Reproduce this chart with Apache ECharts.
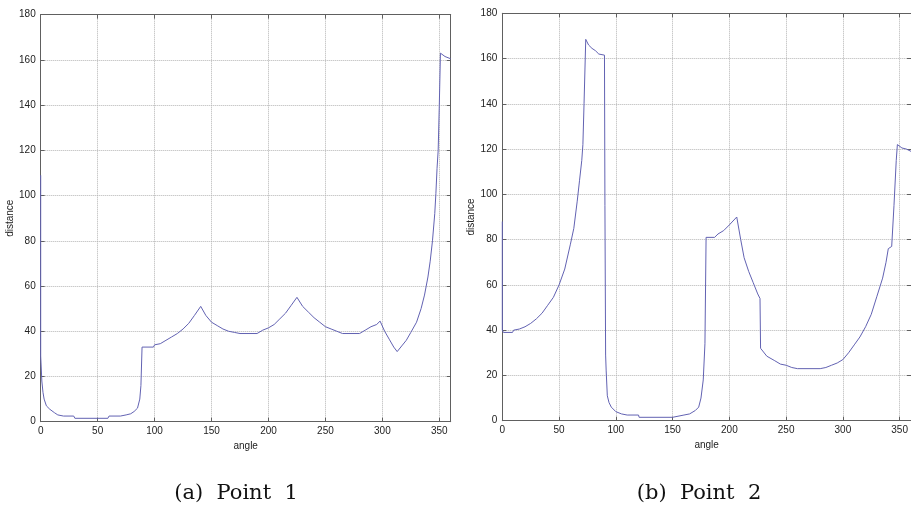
<!DOCTYPE html>
<html>
<head>
<meta charset="utf-8">
<script src="https://cdn.jsdelivr.net/npm/echarts@6/dist/echarts.min.js"></script>
<style>
html,body{margin:0;padding:0;background:#fff;}
#c{width:911px;height:505px;}
</style>
</head>
<body>
<div id="c"></div>
<script>
// ---- Data: Point 1 ----
var angles1 = [0,0,1,2,3,5,8,12,15,20,29,30,59,60,70,75,79,82,85,87,88,89,99,100,105,110,115,120,125,130,135,140.5,145,150,155,160,165,170,175,190,195,200,205,210,215,220,225,230,235,240,245,250,255,260,265,280,285,290,295,298,302,306,310,313,317,321,325,330,334,337,340,342,344,346,347,348,349,350,351,355,360];
var dist1   = [109,29,18,13,10,7,5.5,4,3,2.5,2.5,1.5,1.5,2.5,2.5,3,3.5,4.5,6,10,16,33,33,34,34.5,36,37.5,39,41,43.5,47,51,47,44,42.5,41,40,39.5,39,39,40.5,41.5,43,45.5,48,51.5,55,51,48.5,46,44,42,41,40,39,39,40.5,42,43,44.5,40,36.5,33,31,33.5,36,39.5,44,50,56,64,71,80,92,101,112,120,140,163,161.5,160.5];
// ---- Data: Point 2 ----
var angles2 = [0,0,1,9,10,15,20,25,30,35,40,45,50,55,60,63,66,68,70,71,72,73.5,76,79,82,85,90,90.4,91,91.5,92.5,94,96,100,105,110,120,120.5,150,151,160,165,170,173,175,177,178.5,179.5,187,190,195,200,206.5,210,213,217,221,225,227,227.5,233,240,245,250,255,260,280,285,290,295,300,305,310,315,320,325,330,335,338,340,343,345,347,348,352,356,360];
var dist2   = [88,40,39,39,40,40.5,41.5,43,45,47.5,51,54.5,60,67,78,85,97,106,115,122,140,168.5,166,164.5,163.5,162,161.5,95,29,22,11,8,6,4,3,2.5,2.5,1.5,1.5,2,2.5,3,4.5,6,10,18,34,81,81,82.5,84,86.5,90,80,72,66,61,56,54,32,28.5,26.5,25,24.5,23.5,23,23,23.5,24.5,25.5,27,30,33.5,37,41.5,47,55,63,70,76,77,95,115,122,120.5,120,119];
// ---- Axis ticks / labels ----
var xTicks = {min:0, max:360, interval:50};
var yTicks = {min:0, max:180, interval:20};
var xName = 'angle', yName = 'distance';
var captions = ['(a)  Point  1', '(b)  Point  2'];

function pairs(xs, ys){ return xs.map(function(x,i){ return [x, ys[i]]; }); }

var axisColor = '#606060';
var gridLine = {type:'dotted', color:'#b4b4b4', width:1};
var labelFont = {fontFamily:'Liberation Sans, Arial, sans-serif', fontSize:10, color:'#222'};

function xAxes(g){
  return [
    {type:'value', gridIndex:g, position:'bottom', min:xTicks.min, max:xTicks.max, interval:xTicks.interval,
     name:xName, nameLocation:'middle', nameGap:19, nameTextStyle:labelFont,
     axisLine:{onZero:false, lineStyle:{color:axisColor, width:1}},
     axisTick:{inside:true, length:4, lineStyle:{color:axisColor}},
     axisLabel:Object.assign({margin:5, showMaxLabel:false}, labelFont),
     splitLine:{show:true, lineStyle:gridLine}},
    {type:'value', gridIndex:g, position:'top', min:xTicks.min, max:xTicks.max, interval:xTicks.interval,
     axisLine:{onZero:false, lineStyle:{color:axisColor, width:1}},
     axisTick:{inside:true, length:4, lineStyle:{color:axisColor}},
     axisLabel:{show:false}, splitLine:{show:false}}
  ];
}
function yAxes(g, gap){
  return [
    {type:'value', gridIndex:g, position:'left', min:yTicks.min, max:yTicks.max, interval:yTicks.interval,
     name:yName, nameLocation:'middle', nameGap:gap, nameRotate:90, nameTextStyle:labelFont,
     axisLine:{show:true, onZero:false, lineStyle:{color:axisColor, width:1}},
     axisTick:{show:true, inside:true, length:4, lineStyle:{color:axisColor}},
     axisLabel:Object.assign({margin:5}, labelFont),
     splitLine:{show:true, lineStyle:gridLine}},
    {type:'value', gridIndex:g, position:'right', min:yTicks.min, max:yTicks.max, interval:yTicks.interval,
     axisLine:{show:true, onZero:false, lineStyle:{color:axisColor, width:1}},
     axisTick:{show:true, inside:true, length:4, lineStyle:{color:axisColor}},
     axisLabel:{show:false}, splitLine:{show:false}}
  ];
}

var chart = echarts.init(document.getElementById('c'), null, {renderer:'canvas'});
var lineColor = '#6262b2';
chart.setOption({
  animation:false,
  backgroundColor:'#ffffff',
  grid:[
    {left:40.7, top:14.7, right:460.3, bottom:83.3},
    {left:502.3, top:13.3, right:-3.8, bottom:84.3}
  ],
  xAxis: xAxes(0).concat(xAxes(1)),
  yAxis: yAxes(0, 21).concat(yAxes(1, 20)),
  series:[
    {type:'line', xAxisIndex:0, yAxisIndex:0, data:pairs(angles1, dist1), showSymbol:false, symbol:'none',
     lineStyle:{color:lineColor, width:1}},
    {type:'line', xAxisIndex:2, yAxisIndex:2, data:pairs(angles2, dist2), showSymbol:false, symbol:'none',
     lineStyle:{color:lineColor, width:1}}
  ],
  title:[
    {text:captions[0], left:231, top:478, textAlign:'center',
     textStyle:{fontFamily:'DejaVu Serif, serif', fontSize:21, fontWeight:'normal', color:'#111'}},
    {text:captions[1], left:694, top:478, textAlign:'center',
     textStyle:{fontFamily:'DejaVu Serif, serif', fontSize:21, fontWeight:'normal', color:'#111'}}
  ]
});
</script>
</body>
</html>
